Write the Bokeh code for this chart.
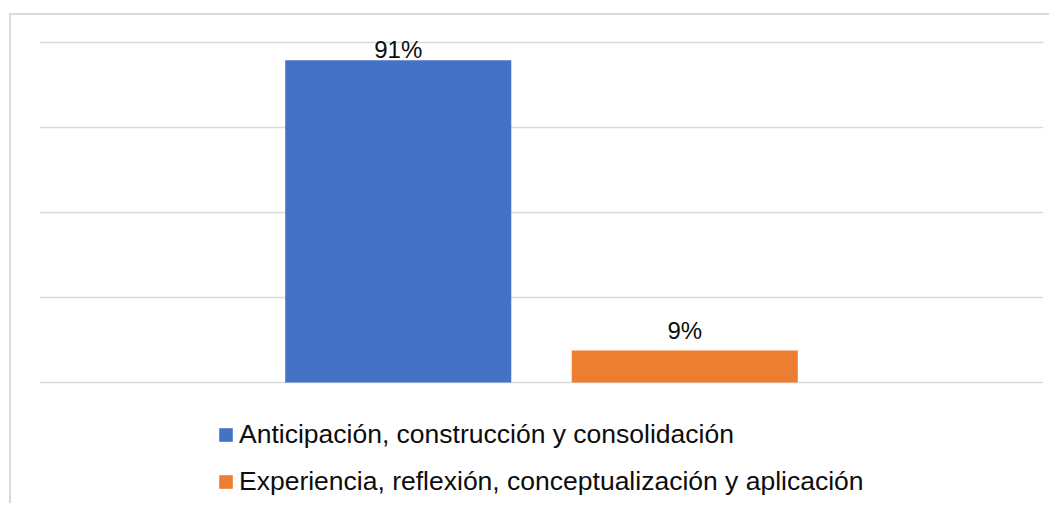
from bokeh.plotting import figure
from bokeh.models import ColumnDataSource, FactorRange, Range1d, FixedTicker, LabelSet, Legend, LegendItem
from bokeh.core.properties import value
from bokeh.embed import file_html
from bokeh.resources import INLINE

# ---- data ----
series = ["Anticipación, construcción y consolidación",
          "Experiencia, reflexión, conceptualización y aplicación"]
values = [91, 9]
labels = ["91%", "9%"]
colors = ["#4472C4", "#ED7D31"]
grid_ticks = [0, 24, 48, 72, 96]

# label standoff (style): the top label is pushed inside the chart area
label_standoff = [2, 12]

src = ColumnDataSource(dict(series=series, value=values, label=labels, color=colors,
                            yoff=label_standoff))

p = figure(width=1040, height=490, output_backend="svg", toolbar_location=None,
           x_range=FactorRange(factors=series, range_padding=0.752, range_padding_units="absolute"),
           y_range=Range1d(-34.73, 103.62),
           x_axis_location=None, y_axis_location=None,
           min_border_left=28, min_border_right=8, min_border_top=0, min_border_bottom=0)
p.styles = {"margin-left": "9px", "margin-top": "13px",
            "border-left": "2px solid #d9d9d9", "border-top": "2px solid #d9d9d9"}
p.outline_line_color = None
p.background_fill_color = "white"
p.border_fill_color = "white"

p.xgrid.grid_line_color = None
p.ygrid.ticker = FixedTicker(ticks=grid_ticks)
p.ygrid.grid_line_color = "#d9d9d9"
p.ygrid.grid_line_width = 1.5

r = p.vbar(x="series", top="value", bottom=0, width=0.789, source=src,
           fill_color="color", line_color=None)

p.add_layout(LabelSet(x="series", y="value", text="label", source=src,
                      text_align="center", text_baseline="alphabetic", y_offset="yoff",
                      text_font=value("Liberation Sans"), text_font_size="24px",
                      text_color="#0d0d0d"))

legend = Legend(items=[LegendItem(label=s, renderers=[r], index=i) for i, s in enumerate(series)],
                location=(178, 8), orientation="vertical",
                glyph_width=17, glyph_height=17, label_standoff=5,
                label_text_font="Liberation Sans", label_text_font_size="26.5px",
                label_text_color="#0d0d0d", label_height=30, spacing=16,
                padding=0, margin=0, border_line_color=None, background_fill_alpha=0)
p.add_layout(legend)

open("out.html", "w").write(file_html(p, INLINE))
